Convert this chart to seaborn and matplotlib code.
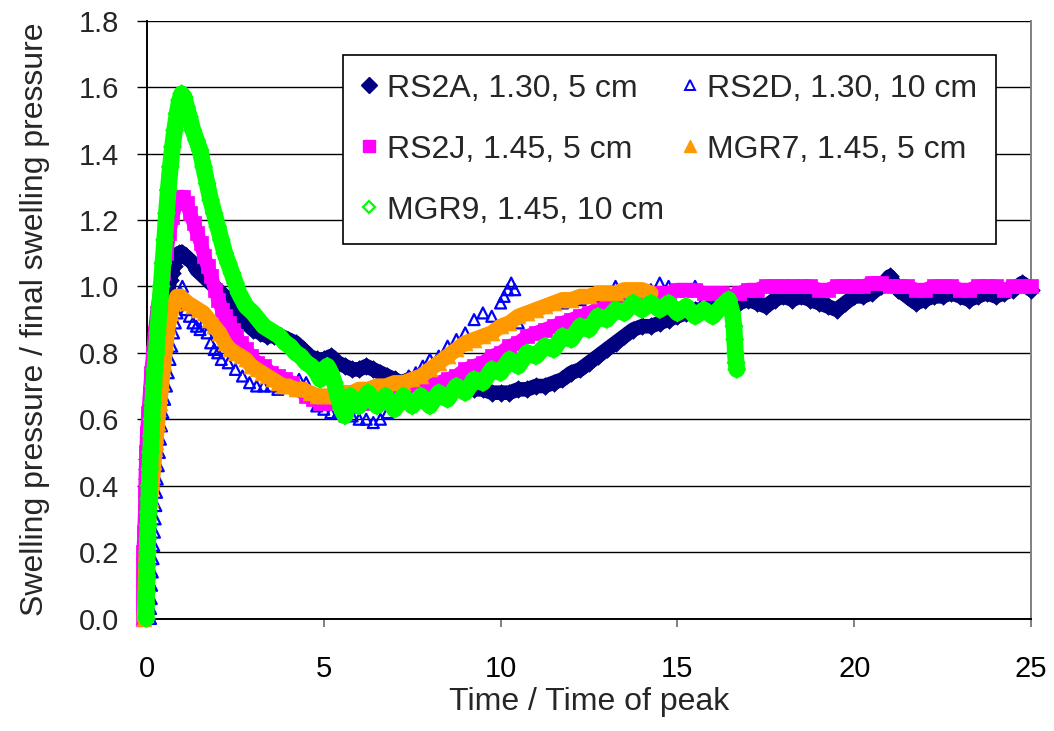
import matplotlib
matplotlib.use("Agg")
import matplotlib.pyplot as plt
from matplotlib.lines import Line2D
from matplotlib.ticker import FormatStrFormatter
import seaborn as sns

# (time / time of peak, swelling pressure / final swelling pressure)
rs2a = [(0.00,0.42),(0.00,0.45),(0.00,0.48),(0.02,0.51),(0.05,0.53),(0.10,0.56),(0.15,0.60),(0.20,0.64),
        (0.25,0.68),(0.30,0.72),(0.35,0.76),(0.40,0.81),(0.45,0.86),(0.50,0.91),(0.55,0.96),(0.60,0.99),
        (0.65,1.02),(0.70,1.04),(0.75,1.06),(0.80,1.08),(0.85,1.09),(0.90,1.10),(0.95,1.10),(1.00,1.10),
        (1.05,1.09),(1.10,1.09),(1.20,1.08),(1.30,1.07),(1.40,1.05),(1.50,1.04),(1.60,1.03),(1.70,1.02),
        (1.80,1.01),(1.90,1.00),(2.00,0.99),(2.10,0.98),(2.20,0.97),(2.30,0.96),(2.40,0.94),(2.50,0.92),
        (2.60,0.91),(2.70,0.90),(2.80,0.89),(2.90,0.88),(3.00,0.87),(3.20,0.86),(3.40,0.85),(3.60,0.85),
        (3.80,0.85),(4.00,0.84),(4.20,0.83),(4.40,0.81),(4.60,0.79),(4.80,0.78),(5.00,0.78),(5.20,0.79),
        (5.40,0.77),(5.60,0.76),(5.80,0.75),(6.00,0.75),(6.20,0.76),(6.40,0.75),(6.60,0.74),(6.80,0.73),
        (7.00,0.72),(7.20,0.71),(7.40,0.72),(7.60,0.72),(7.80,0.71),(8.00,0.70),(8.25,0.70),(8.50,0.69),
        (8.75,0.70),(9.00,0.70),(9.25,0.69),(9.50,0.69),(9.75,0.68),(10.00,0.68),(10.25,0.68),(10.50,0.69),
        (10.75,0.69),(11.00,0.70),(11.25,0.70),(11.50,0.71),(11.75,0.72),(12.00,0.74),(12.25,0.75),
        (12.50,0.77),(12.75,0.79),(13.00,0.81),(13.25,0.83),(13.50,0.85),(13.75,0.87),(14.00,0.88),
        (14.25,0.88),(14.50,0.89),(14.75,0.90),(15.00,0.91),(15.25,0.92),(15.50,0.93),(15.75,0.93),
        (16.00,0.94),(16.25,0.94),(16.50,0.95),(16.75,0.95),(17.00,0.96),(17.25,0.95),(17.50,0.94),
        (17.75,0.96),(18.00,0.97),(18.25,0.96),(18.50,0.97),(18.75,0.96),(19.00,0.95),(19.25,0.94),
        (19.50,0.93),(19.75,0.95),(20.00,0.97),(20.25,0.97),(20.50,0.98),(20.75,1.00),(21.00,1.03),
        (21.25,0.99),(21.50,0.97),(21.75,0.95),(22.00,0.96),(22.25,0.97),(22.50,0.97),(22.75,0.98),
        (23.00,0.97),(23.25,0.96),(23.50,0.97),(23.75,0.98),(24.00,0.97),(24.25,0.98),(24.50,0.99),
        (24.75,1.01),(25.00,0.99)]

rs2d = [(0.10,0.00),(0.10,0.03),(0.12,0.06),(0.13,0.10),(0.15,0.14),(0.17,0.18),(0.19,0.22),(0.21,0.26),
        (0.23,0.30),(0.25,0.34),(0.27,0.38),(0.29,0.42),(0.32,0.46),(0.35,0.50),(0.38,0.54),(0.41,0.58),
        (0.45,0.62),(0.50,0.66),(0.55,0.70),(0.60,0.74),(0.65,0.78),(0.70,0.82),(0.75,0.86),(0.80,0.89),
        (0.85,0.92),(0.90,0.95),(0.95,0.98),(1.00,1.00),(1.05,0.96),(1.10,0.93),(1.20,0.91),(1.30,0.89),
        (1.40,0.88),(1.50,0.87),(1.60,0.89),(1.70,0.86),(1.80,0.83),(1.90,0.81),(2.00,0.80),(2.10,0.78),
        (2.30,0.77),(2.50,0.75),(2.70,0.73),(2.90,0.71),(3.10,0.70),(3.30,0.70),(3.50,0.70),(3.70,0.69),
        (3.90,0.72),(4.10,0.71),(4.30,0.72),(4.50,0.71),(4.70,0.68),(4.80,0.64),(5.00,0.63),(5.20,0.62),
        (5.40,0.62),(5.60,0.61),(5.80,0.61),(6.00,0.60),(6.20,0.60),(6.40,0.59),(6.60,0.60),(6.80,0.62),
        (7.00,0.66),(7.20,0.70),(7.40,0.73),(7.60,0.74),(7.80,0.76),(8.00,0.78),(8.25,0.79),(8.50,0.82),
        (8.75,0.84),(9.00,0.86),(9.25,0.90),(9.50,0.92),(9.75,0.91),(10.00,0.95),(10.10,0.97),(10.20,0.99),
        (10.30,1.01),(10.40,0.99),(10.50,0.89),(10.75,0.92),(11.00,0.93),(11.25,0.94),(11.50,0.95),
        (11.75,0.95),(12.00,0.96),(12.25,0.96),(12.50,0.97),(12.75,0.97),(13.00,0.98),(13.25,1.00),
        (13.50,0.99),(13.75,0.98),(14.00,0.98),(14.25,0.99),(14.50,1.01),(14.75,1.00),(15.00,0.99),
        (15.25,0.99),(15.50,1.00),(15.75,0.96),(16.00,0.95),(16.25,0.95),(16.40,0.96)]

rs2j = [(-0.10,0.00),(-0.10,0.04),(-0.10,0.08),(-0.10,0.12),(-0.10,0.16),(-0.10,0.20),(-0.08,0.26),
        (-0.06,0.32),(-0.05,0.38),(-0.04,0.44),(-0.02,0.50),(0.00,0.56),(0.04,0.62),(0.08,0.68),
        (0.12,0.74),(0.17,0.80),(0.22,0.86),(0.28,0.92),(0.36,0.98),(0.45,1.04),(0.55,1.10),(0.63,1.16),
        (0.72,1.21),(0.82,1.25),(0.92,1.27),(1.02,1.27),(1.12,1.25),(1.22,1.22),(1.32,1.19),(1.42,1.16),
        (1.52,1.13),(1.62,1.09),(1.72,1.06),(1.82,1.03),(1.92,0.99),(2.02,0.96),(2.12,0.93),(2.22,0.91),
        (2.32,0.89),(2.42,0.87),(2.52,0.85),(2.65,0.83),(2.80,0.81),(2.95,0.79),(3.10,0.77),(3.30,0.76),
        (3.50,0.74),(3.70,0.73),(3.90,0.72),(4.10,0.71),(4.30,0.69),(4.50,0.67),(4.70,0.66),(4.90,0.65),
        (5.10,0.65),(5.30,0.65),(5.50,0.64),(5.75,0.64),(6.00,0.65),(6.25,0.65),(6.50,0.66),(6.75,0.67),
        (7.00,0.67),(7.25,0.68),(7.50,0.69),(7.75,0.69),(8.00,0.70),(8.25,0.71),(8.50,0.72),(8.75,0.73),
        (9.00,0.75),(9.25,0.76),(9.50,0.77),(9.75,0.79),(10.00,0.80),(10.25,0.82),(10.50,0.83),
        (10.75,0.85),(11.00,0.86),(11.25,0.87),(11.50,0.88),(11.75,0.89),(12.00,0.90),(12.25,0.91),
        (12.50,0.92),(12.75,0.93),(13.00,0.94),(13.25,0.95),(13.50,0.96),(13.75,0.96),(14.00,0.97),
        (14.25,0.98),(14.50,0.98),(14.75,0.98),(15.00,0.99),(15.25,0.99),(15.50,0.99),(15.75,0.98),
        (16.00,0.98),(16.25,0.98),(16.50,0.97),(16.75,0.98),(17.00,0.99),(17.25,0.99),(17.50,1.00),
        (17.75,1.00),(18.00,1.00),(18.25,1.00),(18.50,1.00),(18.75,1.00),(19.00,0.99),(19.25,0.99),
        (19.50,1.00),(19.75,1.00),(20.00,1.00),(20.25,1.00),(20.50,1.01),(20.75,1.01),(21.00,1.00),
        (21.25,1.00),(21.50,1.00),(21.75,0.99),(22.00,0.99),(22.25,1.00),(22.50,1.00),(22.75,1.00),
        (23.00,0.99),(23.25,0.99),(23.50,1.00),(23.75,1.00),(24.00,1.00),(24.25,0.99),(24.50,1.00),
        (24.75,1.00),(25.00,1.00)]

mgr7 = [(-0.08,0.00),(-0.06,0.04),(-0.05,0.08),(-0.04,0.12),(-0.03,0.16),(-0.02,0.20),(0.00,0.24),
        (0.02,0.28),(0.05,0.32),(0.10,0.36),(0.15,0.41),(0.20,0.47),(0.25,0.53),(0.30,0.59),(0.36,0.65),
        (0.42,0.71),(0.48,0.77),(0.54,0.83),(0.60,0.88),(0.68,0.92),(0.76,0.95),(0.85,0.97),(0.95,0.97),
        (1.05,0.96),(1.15,0.95),(1.30,0.94),(1.45,0.93),(1.60,0.92),(1.75,0.90),(1.90,0.88),(2.05,0.86),
        (2.20,0.83),(2.35,0.81),(2.50,0.80),(2.65,0.79),(2.80,0.78),(2.95,0.76),(3.10,0.75),(3.25,0.74),
        (3.40,0.73),(3.55,0.72),(3.70,0.71),(3.85,0.70),(4.00,0.70),(4.20,0.69),(4.40,0.69),(4.60,0.68),
        (4.80,0.67),(5.00,0.67),(5.20,0.67),(5.40,0.67),(5.60,0.68),(5.80,0.68),(6.00,0.69),(6.25,0.69),
        (6.50,0.70),(6.75,0.70),(7.00,0.71),(7.25,0.71),(7.50,0.72),(7.75,0.73),(8.00,0.75),(8.25,0.77),
        (8.50,0.79),(8.75,0.81),(9.00,0.83),(9.25,0.84),(9.50,0.85),(9.75,0.86),(10.00,0.88),(10.25,0.89),
        (10.50,0.91),(10.75,0.92),(11.00,0.93),(11.25,0.94),(11.50,0.95),(11.75,0.96),(12.00,0.96),
        (12.25,0.97),(12.50,0.97),(12.75,0.98),(13.00,0.98),(13.25,0.98),(13.50,0.99),(13.75,0.99),
        (14.00,0.99),(14.25,0.98)]

mgr9 = [(-0.02,0.00),(-0.02,0.04),(-0.01,0.08),(0.00,0.12),(0.00,0.16),(0.01,0.20),(0.02,0.24),
        (0.03,0.28),(0.04,0.32),(0.05,0.36),(0.06,0.40),(0.08,0.45),(0.10,0.50),(0.12,0.55),(0.14,0.60),
        (0.16,0.65),(0.19,0.70),(0.22,0.75),(0.26,0.80),(0.30,0.86),(0.35,0.93),(0.40,1.00),(0.45,1.07),
        (0.50,1.14),(0.55,1.22),(0.60,1.29),(0.66,1.36),(0.72,1.42),(0.78,1.47),(0.85,1.52),(0.92,1.56),
        (0.98,1.58),(1.05,1.57),(1.12,1.54),(1.20,1.51),(1.30,1.47),(1.40,1.44),(1.50,1.41),(1.60,1.36),
        (1.70,1.31),(1.80,1.26),(1.90,1.22),(2.00,1.18),(2.10,1.14),(2.20,1.10),(2.30,1.07),(2.40,1.04),
        (2.50,1.01),(2.60,0.98),(2.70,0.96),(2.80,0.94),(2.90,0.93),(3.00,0.92),(3.15,0.90),(3.30,0.88),
        (3.45,0.87),(3.60,0.86),(3.75,0.85),(3.90,0.83),(4.05,0.82),(4.20,0.80),(4.35,0.79),(4.50,0.77),
        (4.65,0.76),(4.80,0.74),(4.90,0.72),(5.00,0.75),(5.10,0.76),(5.20,0.74),(5.30,0.71),(5.40,0.67),
        (5.50,0.63),(5.60,0.61),(5.75,0.67),(6.00,0.64),(6.25,0.68),(6.50,0.64),(6.75,0.67),(7.00,0.63),
        (7.25,0.67),(7.50,0.64),(7.75,0.67),(8.00,0.64),(8.25,0.68),(8.50,0.66),(8.75,0.70),(9.00,0.68),
        (9.25,0.72),(9.50,0.71),(9.75,0.75),(10.00,0.74),(10.25,0.78),(10.50,0.76),(10.75,0.80),
        (11.00,0.79),(11.25,0.82),(11.50,0.81),(11.75,0.85),(12.00,0.84),(12.25,0.88),(12.50,0.87),
        (12.75,0.91),(13.00,0.90),(13.25,0.93),(13.50,0.92),(13.75,0.95),(14.00,0.93),(14.25,0.95),
        (14.50,0.93),(14.75,0.95),(15.00,0.92),(15.25,0.94),(15.50,0.91),(15.75,0.93),(16.00,0.91),
        (16.25,0.94),(16.45,0.96),(16.55,0.92),(16.60,0.88),(16.62,0.84),(16.64,0.80),(16.66,0.77),
        (16.68,0.75)]

labels = ["RS2A, 1.30, 5 cm", "RS2D, 1.30, 10 cm", "RS2J, 1.45, 5 cm",
          "MGR7, 1.45, 5 cm", "MGR9, 1.45, 10 cm"]
x_ticks = [0, 5, 10, 15, 20, 25]
y_ticks = [0.0, 0.2, 0.4, 0.6, 0.8, 1.0, 1.2, 1.4, 1.6, 1.8]

sns.set_style("white")
plt.rcParams["font.family"] = ["Liberation Sans", "DejaVu Sans"]

fig = plt.figure(figsize=(10.54, 7.31), dpi=100)
ax = fig.add_axes([147 / 1054, 1 - 618.5 / 731, (1031 - 147) / 1054, (618.5 - 20.7) / 731])
ax.set_axisbelow(True)

# per series: colour, marker, scatter size, open marker?, width of the dense band
series_styles = [
    dict(color="#000080", marker="D", s=80, hollow=False, band=10.5),
    dict(color="#0000FF", marker="^", s=62, hollow=True, band=0),
    dict(color="#FF00FF", marker="s", s=105, hollow=False, band=10),
    dict(color="#FF9900", marker="^", s=115, hollow=False, band=11),
    dict(color="#00FF00", marker="D", s=70, hollow=True, band=12),
]

for k, (pts, st) in enumerate(zip([rs2a, rs2d, rs2j, mgr7, mgr9], series_styles)):
    xs = [p[0] for p in pts]
    ys = [p[1] for p in pts]
    z = 3 + k
    if st["band"] > 0:
        sns.lineplot(x=xs, y=ys, ax=ax, sort=False, estimator=None, color=st["color"],
                     linewidth=st["band"], solid_capstyle="round", solid_joinstyle="round",
                     clip_on=False, zorder=z, legend=False)
    if st["hollow"]:
        sns.scatterplot(x=xs, y=ys, ax=ax, marker=st["marker"], s=st["s"], color=st["color"],
                        facecolor="none", edgecolor=st["color"], linewidth=1.6,
                        clip_on=False, zorder=z + 0.5, legend=False)
    else:
        sns.scatterplot(x=xs, y=ys, ax=ax, marker=st["marker"], s=st["s"], color=st["color"],
                        edgecolor=st["color"], linewidth=0.5,
                        clip_on=False, zorder=z + 0.5, legend=False)

ax.set_xlim(0, 25)
ax.set_ylim(0, 1.8)
ax.set_xticks(x_ticks)
ax.set_yticks(y_ticks)
ax.yaxis.set_major_formatter(FormatStrFormatter("%.1f"))
ax.grid(axis="y", color="black", linewidth=1.0)
ax.grid(axis="x", visible=False)

for side in ["left", "bottom"]:
    ax.spines[side].set_color("black")
    ax.spines[side].set_linewidth(1.4)
ax.spines["top"].set_visible(False)
ax.spines["right"].set_color("#808080")
ax.spines["right"].set_linewidth(1.4)

ax.tick_params(axis="y", direction="out", length=7, width=1.0, color="black",
               labelsize=21, pad=13, left=True)
ax.tick_params(axis="x", direction="out", length=6, width=1.4, color="#808080",
               labelsize=21, pad=20, bottom=True, labelcolor="black")

ax.set_xlabel("Time / Time of peak", fontsize=23, labelpad=3)
ax.set_ylabel("Swelling pressure / final swelling pressure", fontsize=23, labelpad=21)

legend_marks = [
    Line2D([], [], ls="", marker="D", markersize=8, color="#000080"),
    Line2D([], [], ls="", marker="^", markersize=7, markerfacecolor="none",
           markeredgecolor="#0000FF", markeredgewidth=1.4),
    Line2D([], [], ls="", marker="s", markersize=8, color="#FF00FF"),
    Line2D([], [], ls="", marker="^", markersize=8, color="#FF9900"),
    Line2D([], [], ls="", marker="D", markersize=6, markerfacecolor="none",
           markeredgecolor="#00FF00", markeredgewidth=1.6),
]
order = [0, 2, 4, 1, 3]
leg = ax.legend([legend_marks[i] for i in order], [labels[i] for i in order],
                ncol=2, loc="upper left", bbox_to_anchor=(0.2217, 0.9426),
                fontsize=23, frameon=True, fancybox=False, framealpha=1,
                edgecolor="black", borderpad=0.58, labelspacing=0.97,
                handlelength=0.5, handletextpad=0.3, columnspacing=0.55,
                borderaxespad=0)
leg.get_frame().set_linewidth(1.2)
leg.set_zorder(20)

fig.savefig("out.png", dpi=100)
